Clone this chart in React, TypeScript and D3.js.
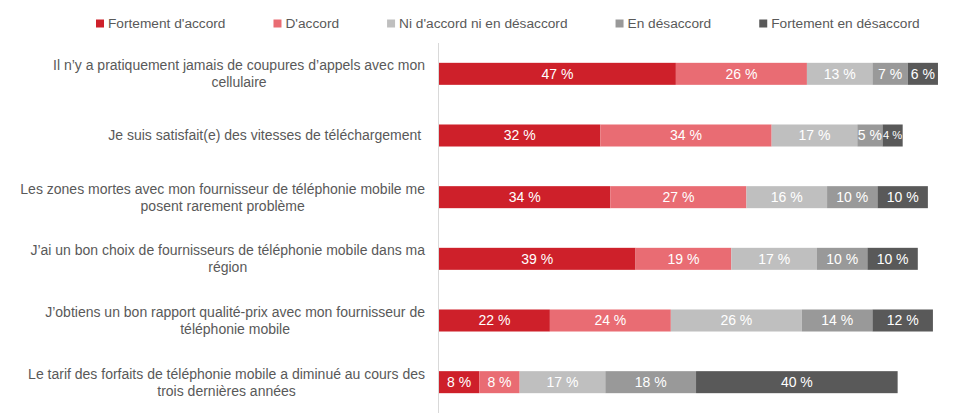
import React from 'react';
import * as d3 from 'd3';

const categories = [
  'Il n’y a pratiquement jamais de coupures d’appels avec mon\ncellulaire',
  'Je suis satisfait(e) des vitesses de téléchargement ',
  'Les zones mortes avec mon fournisseur de téléphonie mobile me\nposent rarement problème',
  'J’ai un bon choix de fournisseurs de téléphonie mobile dans ma\nrégion',
  'J’obtiens un bon rapport qualité-prix avec mon fournisseur de\ntéléphonie mobile',
  'Le tarif des forfaits de téléphonie mobile a diminué au cours des\ntrois dernières années',
];

const seriesNames = [
  "Fortement d'accord",
  "D'accord",
  "Ni d'accord ni en désaccord",
  'En désaccord',
  'Fortement en désaccord',
];

const fortementAccord = [47, 32, 34, 39, 22, 8];
const accord = [26, 34, 27, 19, 24, 8];
const neutre = [13, 17, 16, 17, 26, 17];
const desaccord = [7, 5, 10, 10, 14, 18];
const fortementDesaccord = [6, 4, 10, 10, 12, 40];

const seriesValues = [fortementAccord, accord, neutre, desaccord, fortementDesaccord];
const colors = ['#CE202A', '#E96C73', '#BFBFBF', '#999999', '#595959'];

const W = 960;
const H = 413;
const FONT = '"Liberation Sans", Arial, sans-serif';
const TEXT_COLOR = '#595959';

function measure(text: string, font: string): number {
  const c = document.createElement('canvas').getContext('2d');
  if (!c) return text.length * 6.5;
  c.font = font;
  return c.measureText(text).width;
}

export default function App() {
  const rows = categories.map((c, i) => {
    const r: any = { key: i };
    seriesNames.forEach((s, j) => (r[s] = seriesValues[j][i]));
    return r;
  });
  const stacked = d3.stack<any>().keys(seriesNames)(rows);

  const x = d3.scaleLinear().domain([0, 100]).range([439, 943]);
  const y = d3
    .scaleBand<number>()
    .domain(categories.map((_, i) => i))
    .range([43, 413])
    .paddingInner(0.643)
    .paddingOuter(0.3215);

  const labelFont = `14px ${FONT}`;
  const labelRight = 425;

  const legendSize = 13.7;
  const legendFont = `${legendSize}px ${FONT}`;
  let lx = 96;
  const legendItems = seriesNames.map((s, i) => {
    const item = { name: s, x: lx, color: colors[i] };
    lx += 8 + 4 + measure(s, legendFont) + 48;
    return item;
  });

  return (
    <svg width={W} height={H} style={{ position: 'absolute', left: 0, top: 0, background: '#fff' }} fontFamily={FONT}>
      <rect x={0} y={0} width={W} height={H} fill="#fff" />
      {legendItems.map((it) => (
        <g key={it.name}>
          <rect x={it.x} y={19.5} width={8} height={8} fill={it.color} />
          <text x={it.x + 12} y={23.5} dy="0.35em" fontSize={legendSize} fill={TEXT_COLOR}>
            {it.name}
          </text>
        </g>
      ))}
      <line x1={438.5} x2={438.5} y1={43} y2={413} stroke="#D9D9D9" strokeWidth={1} />
      {categories.map((c, i) => {
        const lines = c.split('\n');
        const widths = lines.map((l) => measure(l, labelFont));
        const blockW = Math.max(...widths);
        const cx = labelRight - blockW / 2;
        const cy = (y(i) as number) + y.bandwidth() / 2;
        return (
          <text key={i} fontSize={14} fill={TEXT_COLOR} textAnchor="middle" style={{ whiteSpace: 'pre' }}>
            {lines.map((l, k) => (
              <tspan key={k} x={cx} y={cy + (k - (lines.length - 1) / 2) * 17} dy="0.35em">
                {l}
              </tspan>
            ))}
          </text>
        );
      })}
      {stacked.map((layer, j) => (
        <g key={layer.key} fill={colors[j]}>
          {layer.map((d, i) => (
            <rect
              key={i}
              x={x(d[0])}
              y={y(i)}
              width={x(d[1]) - x(d[0])}
              height={y.bandwidth()}
            />
          ))}
        </g>
      ))}
      {stacked.map((layer, j) => (
        <g key={'l' + layer.key}>
          {layer.map((d, i) => {
            const label = `${d[1] - d[0]} %`;
            const segW = x(d[1]) - x(d[0]);
            const tw = measure(label, `14px ${FONT}`);
            const fs = tw > segW - 1 ? (14 * (segW - 1)) / tw : 14;
            return (
              <text
                key={i}
                x={(x(d[0]) + x(d[1])) / 2}
                y={(y(i) as number) + y.bandwidth() / 2}
                dy="0.35em"
                textAnchor="middle"
                fontSize={fs}
                fill="#fff"
              >
                {label}
              </text>
            );
          })}
        </g>
      ))}
    </svg>
  );
}
